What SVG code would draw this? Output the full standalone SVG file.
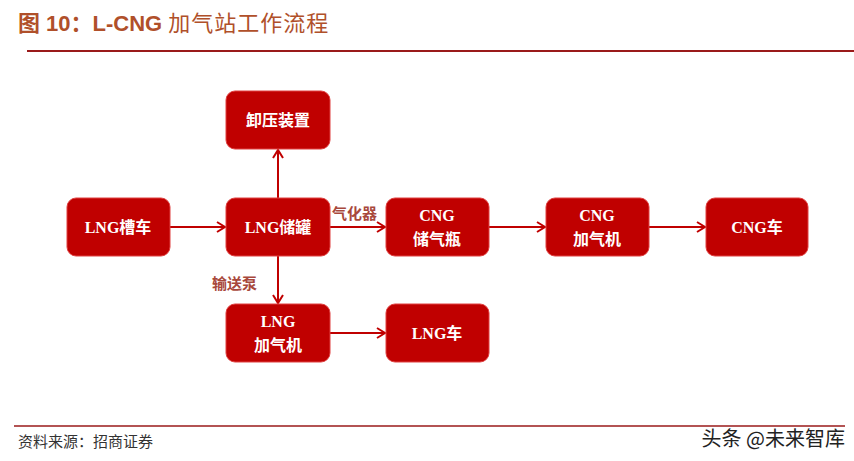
<svg xmlns="http://www.w3.org/2000/svg" width="854" height="461" viewBox="0 0 854 461">
<defs>
<style>
.node rect{fill:#c00000;stroke:#e04040;stroke-width:1}
.node text{fill:#fff;font-family:"Liberation Serif","Noto Sans CJK SC",serif;font-size:16px;font-weight:bold;text-anchor:middle}
.edge{stroke:#c00000;stroke-width:2;fill:none;marker-end:url(#ah)}
.lbl{fill:#a8483c;font-family:"Noto Sans CJK SC",sans-serif;font-size:15px;font-weight:bold}
</style>
<marker id="ah" markerWidth="12" markerHeight="12" refX="10" refY="6" orient="auto" markerUnits="userSpaceOnUse">
<path d="M2,1 L10,6 L2,11" fill="none" stroke="#c00000" stroke-width="2"/>
</marker>
</defs>
<rect width="854" height="461" fill="#fff"/>
<text x="18" y="31" font-family="Liberation Sans,Noto Sans CJK SC,sans-serif" font-size="22" font-weight="bold" fill="#b0502a">图 10：L-CNG <tspan font-weight="normal" letter-spacing="1">加气站工作流程</tspan></text>
<line x1="27" y1="51" x2="854" y2="51" stroke="#9a1a1a" stroke-width="2"/>
<g id="connectors">
<line class="edge" x1="170" y1="227" x2="225" y2="227"/>
<line class="edge" x1="278" y1="198" x2="278" y2="150"/>
<line class="edge" x1="330" y1="227" x2="385" y2="227"/>
<line class="edge" x1="489" y1="227" x2="545" y2="227"/>
<line class="edge" x1="649" y1="227" x2="705" y2="227"/>
<line class="edge" x1="278" y1="256" x2="278" y2="303"/>
<line class="edge" x1="330" y1="333" x2="385" y2="333"/>
<text class="lbl" x="332" y="219">气化器</text>
<text class="lbl" x="212" y="289">输送泵</text>
</g>
<g id="n_xieya" class="node"><rect x="226" y="91" width="104" height="58" rx="9"/><text x="278" y="126">卸压装置</text></g>
<g id="n_cao" class="node"><rect x="67" y="198" width="103" height="58" rx="9"/><text x="118" y="233">LNG槽车</text></g>
<g id="n_guan" class="node"><rect x="226" y="198" width="104" height="58" rx="9"/><text x="278" y="233">LNG储罐</text></g>
<g id="n_cngping" class="node"><rect x="386" y="198" width="103" height="58" rx="9"/><text x="437" y="221">CNG</text><text x="437" y="245">储气瓶</text></g>
<g id="n_cngji" class="node"><rect x="546" y="198" width="103" height="58" rx="9"/><text x="597" y="221">CNG</text><text x="597" y="245">加气机</text></g>
<g id="n_cngche" class="node"><rect x="706" y="198" width="102" height="58" rx="9"/><text x="757" y="233">CNG车</text></g>
<g id="n_lngji" class="node"><rect x="226" y="304" width="104" height="58" rx="9"/><text x="278" y="327">LNG</text><text x="278" y="351">加气机</text></g>
<g id="n_lngche" class="node"><rect x="386" y="304" width="103" height="58" rx="9"/><text x="437" y="339">LNG车</text></g>
<line x1="14" y1="426" x2="845" y2="426" stroke="#9a1a1a" stroke-width="1.5"/>
<text x="18" y="447" font-family="Noto Sans CJK SC,sans-serif" font-size="15" fill="#333">资料来源：招商证券</text>
<text x="845" y="446" text-anchor="end" font-family="Noto Sans CJK SC,sans-serif" font-size="20" fill="#222">头条 @未来智库</text>
</svg>
